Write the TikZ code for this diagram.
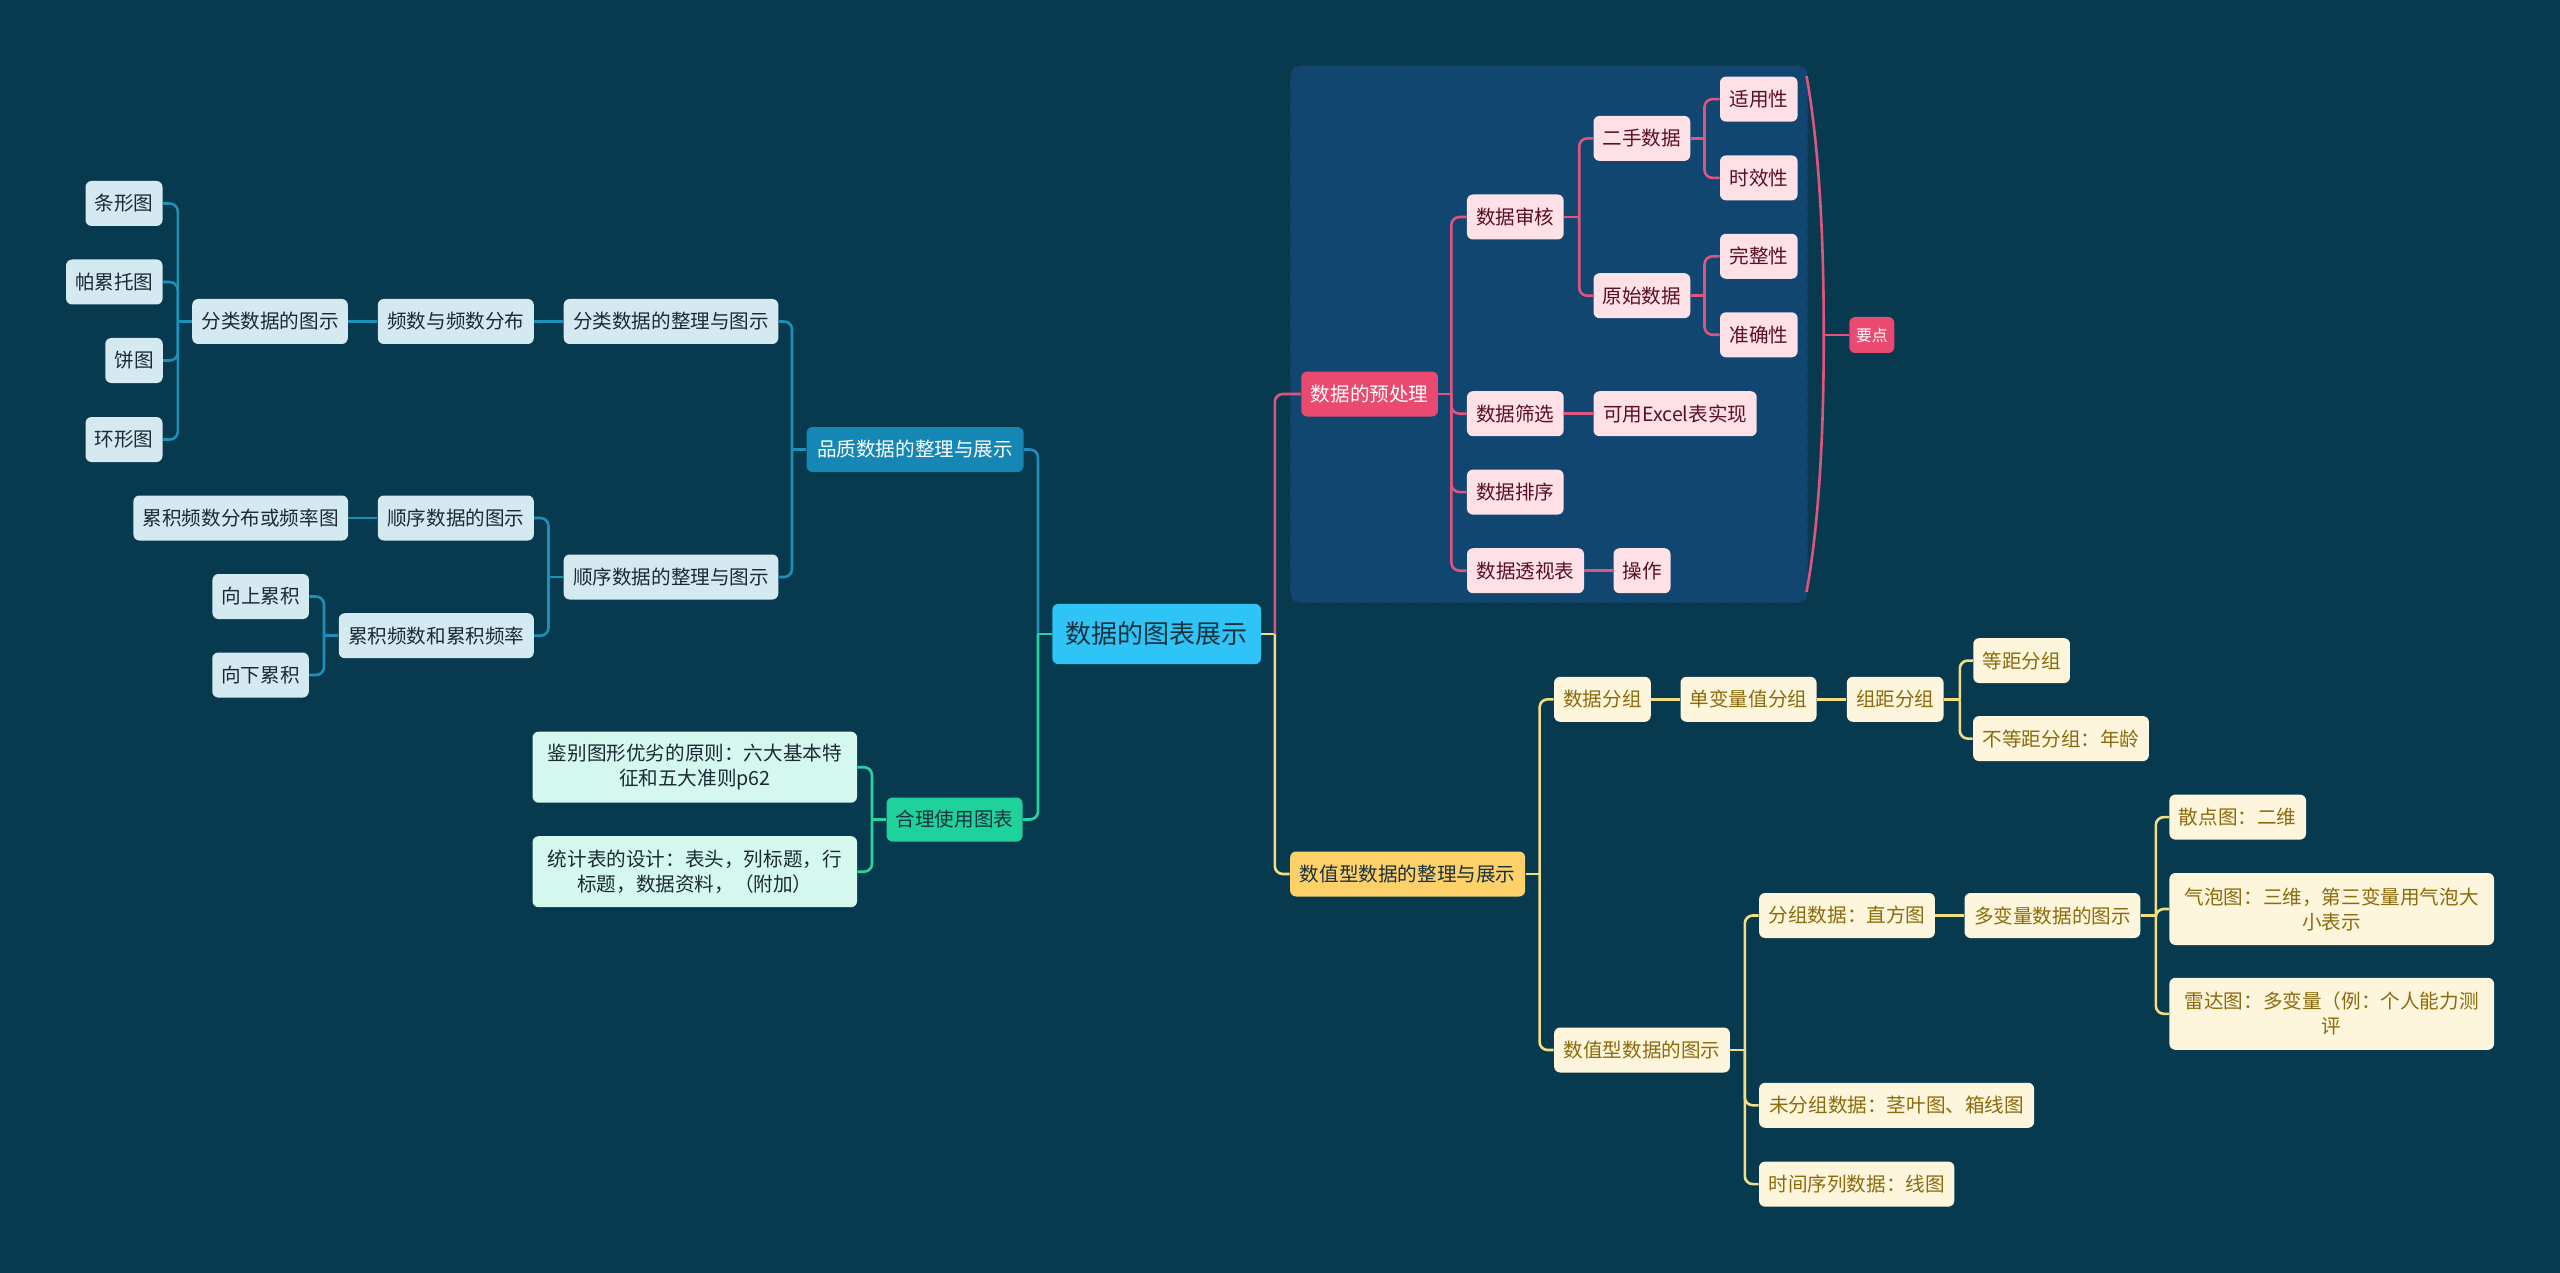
\documentclass[tikz,border=0pt]{standalone}
\usepackage{fontspec}
\setmainfont{Noto Sans CJK SC}
\definecolor{bgc}{HTML}{073A4E}
\definecolor{bconn}{HTML}{1F8FBA}
\definecolor{bleafc}{HTML}{D5E9F1}
\definecolor{bleaft}{HTML}{1B2A33}
\definecolor{bmainc}{HTML}{1587B4}
\definecolor{gconn}{HTML}{27D3A0}
\definecolor{gmainc}{HTML}{1FD29C}
\definecolor{gleafc}{HTML}{D4F7EE}
\definecolor{rootc}{HTML}{2FC4F6}
\definecolor{roott}{HTML}{17323F}
\definecolor{pconn}{HTML}{E05580}
\definecolor{pmainc}{HTML}{EA4A70}
\definecolor{pleafc}{HTML}{FDE1E7}
\definecolor{pleaft}{HTML}{5A0F22}
\definecolor{grpc}{HTML}{10466F}
\definecolor{grpb}{HTML}{1A3550}
\definecolor{yconn}{HTML}{F3DD85}
\definecolor{ymainc}{HTML}{FDD069}
\definecolor{yleafc}{HTML}{FDF5DC}
\definecolor{yleaft}{HTML}{8B6B0B}
\tikzset{
  box/.style={rounded corners=3pt, inner sep=0pt, minimum height=22.5pt,
    font=\fontsize{9.8}{12.5}\selectfont, align=center},
  wd/.style={minimum width=#1*0.5pt},
  ht/.style={minimum height=#1*0.5pt},
  bleaf/.style={box, fill=bleafc, text=bleaft},
  bmain/.style={box, fill=bmainc, text=white},
  gleaf/.style={box, fill=gleafc, text=bleaft},
  gmain/.style={box, fill=gmainc, text=roott},
  rootbox/.style={box, fill=rootc, text=roott, font=\fontsize{13}{16}\selectfont},
  pleaf/.style={box, fill=pleafc, text=pleaft},
  pmain/.style={box, fill=pmainc, text=white},
  yleaf/.style={box, fill=yleafc, text=yleaft},
  ymain/.style={box, fill=ymainc, text=roott},
  cn/.style={line width=1.3pt, rounded corners=4pt},
  bc/.style={cn, draw=bconn},
  gc/.style={cn, draw=gconn},
  pc/.style={cn, draw=pconn},
  yc/.style={cn, draw=yconn},
}
\newcommand{\mmstub}[3]{\draw[#1] (#2) -- (#2 -| #3);}
\newcommand{\mmelbow}[4]{\draw[#1] (#2 -| #3) |- (#4);}
\begin{document}
\begin{tikzpicture}[x=0.5pt, y=-0.5pt]
\fill[bgc] (0,0) rectangle (2560,1273);
\useasboundingbox (0,0) rectangle (2560,1273);

% group box for preprocessing
\draw[fill=grpc, draw=grpb, dashed, rounded corners=5pt, line width=0.8pt] (1290.2,65.4) rectangle (1807.8,602.9);

% vertical line coordinates
\coordinate (vA) at (177.8,0);
\coordinate (vB) at (792,0);
\coordinate (vC) at (548.5,0);
\coordinate (vD) at (324,0);
\coordinate (vE) at (872,0);
\coordinate (vL) at (1038,0);
\coordinate (vR) at (1274.8,0);
\coordinate (vP1) at (1451.4,0);
\coordinate (vP2) at (1579.2,0);
\coordinate (vP3) at (1704.5,0);
\coordinate (vY1) at (1539.6,0);
\coordinate (vY2) at (1959.8,0);
\coordinate (vY3) at (1744.8,0);
\coordinate (vY4) at (2155.8,0);

% root
\node[rootbox, wd=208.6, ht=60.3] (root) at (1156.7,634) {数据的图表展示};

% left blue branch
\node[bleaf, wd=77] (tiao) at (124,203.5) {条形图};
\node[bleaf, wd=96.5] (pa) at (114.3,282) {帕累托图};
\node[bleaf, wd=57.5] (bing) at (134,360.5) {饼图};
\node[bleaf, wd=77] (huan) at (124,439.5) {环形图};
\node[bleaf, wd=155.6] (flts) at (270,321.5) {分类数据的图示};
\node[bleaf, wd=156] (pinshu) at (455.8,321.5) {频数与频数分布};
\node[bleaf, wd=214.6] (flzl) at (671,321.5) {分类数据的整理与图示};
\node[bmain, wd=217] (pz) at (915,449.5) {品质数据的整理与展示};
\node[bleaf, wd=214.6] (ljpl) at (240.7,518) {累积频数分布或频率图};
\node[bleaf, wd=156] (sxts) at (455.8,518) {顺序数据的图示};
\node[bleaf, wd=214.6] (sxzl) at (671,577) {顺序数据的整理与图示};
\node[bleaf, wd=96.5] (up) at (260.7,596.5) {向上累积};
\node[bleaf, wd=195] (ljps) at (436.3,635.7) {累积频数和累积频率};
\node[bleaf, wd=96.5] (down) at (260.5,675) {向下累积};

% green branch
\node[gmain, wd=136, ht=44] (hl) at (954.5,819.5) {合理使用图表};
\node[gleaf, wd=324.5, ht=71] (jb) at (694.8,767.2) {鉴别图形优劣的原则：六大基本特\\征和五大准则p62};
\node[gleaf, wd=324.5, ht=71] (tj) at (694.8,871.7) {统计表的设计：表头，列标题，行\\标题，数据资料，（附加）};

% pink branch
\node[pmain, wd=136.7] (ycl) at (1369.6,394) {数据的预处理};
\node[pleaf, wd=96.7] (sh) at (1515.3,217) {数据审核};
\node[pleaf, wd=96.7] (es) at (1641.9,138.4) {二手数据};
\node[pleaf, wd=96.7] (ys) at (1641.9,295.7) {原始数据};
\node[pleaf, wd=77.6] (syx) at (1758.8,99.1) {适用性};
\node[pleaf, wd=77.6] (sxx) at (1758.8,177.9) {时效性};
\node[pleaf, wd=77.6] (wzx) at (1758.8,256.3) {完整性};
\node[pleaf, wd=77.6] (zqx) at (1758.8,334.8) {准确性};
\node[pleaf, wd=96.7] (sx) at (1515.3,413.7) {数据筛选};
\node[pleaf, wd=163.2] (excel) at (1675.1,413.7) {可用Excel表实现};
\node[pleaf, wd=96.7] (px) at (1515.3,492.1) {数据排序};
\node[pleaf, wd=117] (tsb) at (1525.5,570.7) {数据透视表};
\node[pleaf, wd=57] (cz) at (1642,570.7) {操作};
\node[pmain, wd=45, ht=36, font=\fontsize{7.9}{10}\selectfont] (yd) at (1871.8,335) {要点};

% yellow branch
\node[ymain, wd=235] (szx) at (1407.6,874) {数值型数据的整理与展示};
\node[yleaf, wd=96.7] (sjfz) at (1602.4,699.3) {数据分组};
\node[yleaf, wd=136] (dbl) at (1748.5,699.3) {单变量值分组};
\node[yleaf, wd=96.7] (zj) at (1895.2,699.3) {组距分组};
\node[yleaf, wd=96.7] (dj) at (2021.6,660.6) {等距分组};
\node[yleaf, wd=175.8] (bdj) at (2061,738.6) {不等距分组：年龄};
\node[yleaf, wd=175.8] (szts) at (1642,1050) {数值型数据的图示};
\node[yleaf, wd=175.8] (fzsj) at (1847,915.5) {分组数据：直方图};
\node[yleaf, wd=175.8] (dbls) at (2052.4,915.5) {多变量数据的图示};
\node[yleaf, wd=136.6] (sd) at (2237.7,817.1) {散点图：二维};
\node[yleaf, wd=324.6, ht=72] (qp) at (2331.7,909) {气泡图：三维，第三变量用气泡大\\小表示};
\node[yleaf, wd=324.6, ht=72] (ld) at (2331.7,1013.8) {雷达图：多变量（例：个人能力测\\评};
\node[yleaf, wd=275] (wfz) at (1896.6,1105.3) {未分组数据：茎叶图、箱线图};
\node[yleaf, wd=195.4] (sjxl) at (1856.7,1184.1) {时间序列数据：线图};

% ---- connectors ----
% root left
\mmstub{bc}{root.west}{vL}
\mmelbow{bc}{root.west}{vL}{pz.east}
\mmelbow{gc}{root.west}{vL}{hl.east}
\draw[gc] (root.west) -- (root.west -| vL);
% root right
\mmstub{yc}{root.east}{vR}
\mmelbow{pc}{root.east}{vR}{ycl.west}
\mmelbow{yc}{root.east}{vR}{szx.west}

% blue
\mmstub{bc}{pz.west}{vB}
\mmelbow{bc}{pz.west}{vB}{flzl.east}
\mmelbow{bc}{pz.west}{vB}{sxzl.east}
\draw[bc] (flzl.west) -- (pinshu.east);
\draw[bc] (pinshu.west) -- (flts.east);
\mmstub{bc}{flts.west}{vA}
\mmelbow{bc}{flts.west}{vA}{tiao.east}
\mmelbow{bc}{flts.west}{vA}{pa.east}
\mmelbow{bc}{flts.west}{vA}{bing.east}
\mmelbow{bc}{flts.west}{vA}{huan.east}
\mmstub{bc}{sxzl.west}{vC}
\mmelbow{bc}{sxzl.west}{vC}{sxts.east}
\mmelbow{bc}{sxzl.west}{vC}{ljps.east}
\draw[bc] (sxts.west) -- (ljpl.east);
\mmstub{bc}{ljps.west}{vD}
\mmelbow{bc}{ljps.west}{vD}{up.east}
\mmelbow{bc}{ljps.west}{vD}{down.east}

% green
\mmstub{gc}{hl.west}{vE}
\mmelbow{gc}{hl.west}{vE}{jb.east}
\mmelbow{gc}{hl.west}{vE}{tj.east}

% pink
\mmstub{pc}{ycl.east}{vP1}
\mmelbow{pc}{ycl.east}{vP1}{sh.west}
\mmelbow{pc}{ycl.east}{vP1}{sx.west}
\mmelbow{pc}{ycl.east}{vP1}{px.west}
\mmelbow{pc}{ycl.east}{vP1}{tsb.west}
\mmstub{pc}{sh.east}{vP2}
\mmelbow{pc}{sh.east}{vP2}{es.west}
\mmelbow{pc}{sh.east}{vP2}{ys.west}
\mmstub{pc}{es.east}{vP3}
\mmelbow{pc}{es.east}{vP3}{syx.west}
\mmelbow{pc}{es.east}{vP3}{sxx.west}
\mmstub{pc}{ys.east}{vP3}
\mmelbow{pc}{ys.east}{vP3}{wzx.west}
\mmelbow{pc}{ys.east}{vP3}{zqx.west}
\draw[pc] (sx.east) -- (excel.west);
\draw[pc] (tsb.east) -- (cz.west);
% summary brace
\coordinate (brT) at (1806.5,76);
\coordinate (brB) at (1806.5,592);
\coordinate (brM) at (1823.7,335);
\draw[pc] (brT) .. controls (1820,150) and (1823.7,250) .. (brM) .. controls (1823.7,420) and (1820,520) .. (brB);
\draw[pc] (brM) -- (yd.west);

% yellow
\mmstub{yc}{szx.east}{vY1}
\mmelbow{yc}{szx.east}{vY1}{sjfz.west}
\mmelbow{yc}{szx.east}{vY1}{szts.west}
\draw[yc] (sjfz.east) -- (dbl.west);
\draw[yc] (dbl.east) -- (zj.west);
\mmstub{yc}{zj.east}{vY2}
\mmelbow{yc}{zj.east}{vY2}{dj.west}
\mmelbow{yc}{zj.east}{vY2}{bdj.west}
\mmstub{yc}{szts.east}{vY3}
\mmelbow{yc}{szts.east}{vY3}{fzsj.west}
\mmelbow{yc}{szts.east}{vY3}{wfz.west}
\mmelbow{yc}{szts.east}{vY3}{sjxl.west}
\draw[yc] (fzsj.east) -- (dbls.west);
\mmstub{yc}{dbls.east}{vY4}
\mmelbow{yc}{dbls.east}{vY4}{sd.west}
\mmelbow{yc}{dbls.east}{vY4}{qp.west}
\mmelbow{yc}{dbls.east}{vY4}{ld.west}
\end{tikzpicture}
\end{document}
